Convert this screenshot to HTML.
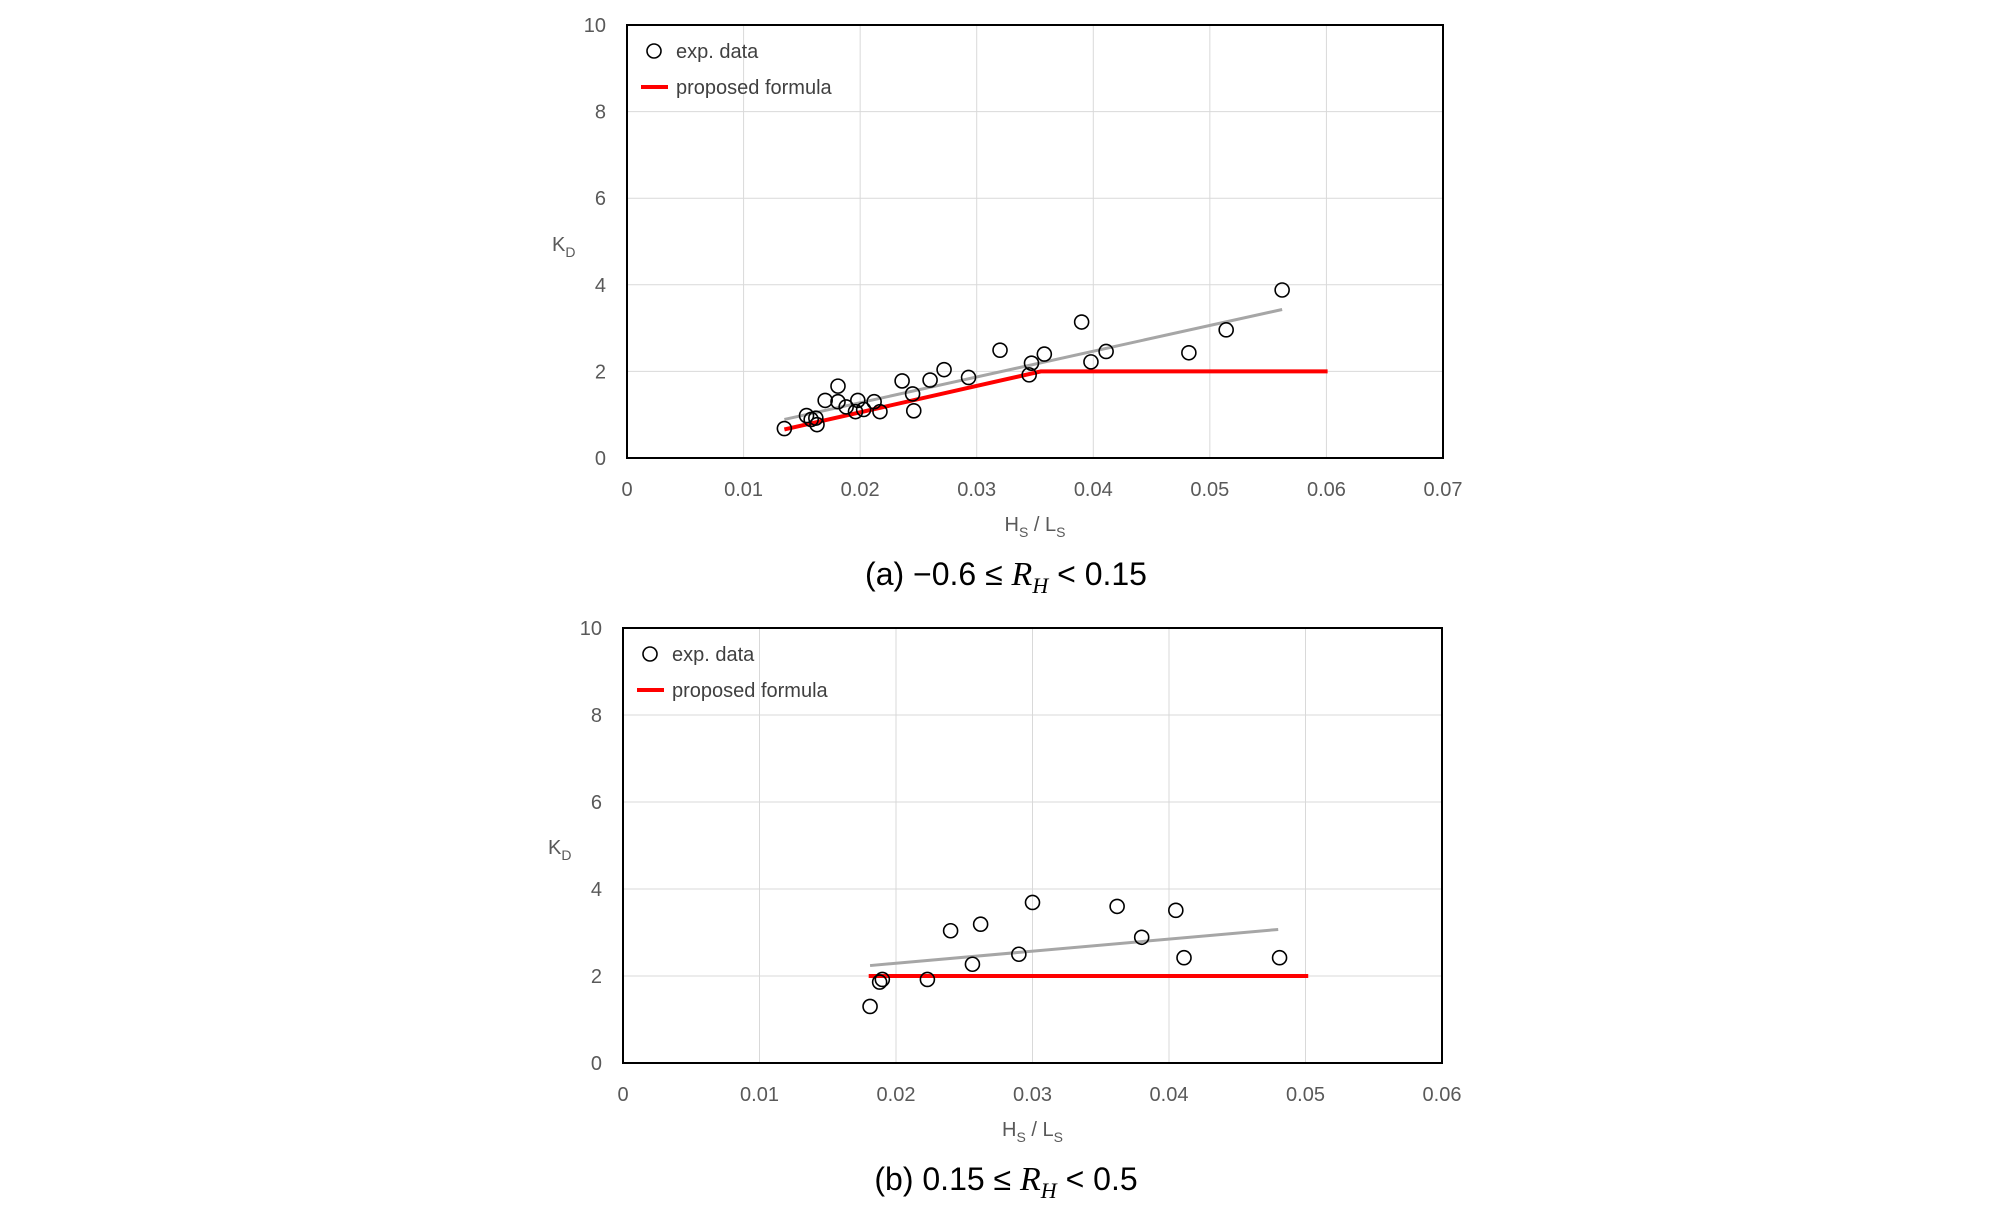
<!DOCTYPE html>
<html><head><meta charset="utf-8"><style>
html,body{margin:0;padding:0;background:#fff;}
svg{display:block;font-family:"Liberation Sans",sans-serif;}
</style></head><body>
<svg id="fig" width="2008" height="1210" viewBox="0 0 2008 1210" xmlns="http://www.w3.org/2000/svg"></svg>
<script>
// Panel (a) data
const aExpX = [0.0135,0.0154,0.0158,0.0162,0.0163,0.017,0.0181,0.0181,0.0188,0.0196,0.0198,0.0203,0.0212,0.0217,0.0236,0.0245,0.0246,0.026,0.0272,0.0293,0.032,0.0345,0.0347,0.0358,0.039,0.0398,0.0411,0.0482,0.0514,0.0562];
const aExpY = [0.68,0.98,0.89,0.92,0.77,1.33,1.66,1.3,1.18,1.07,1.33,1.12,1.3,1.07,1.78,1.48,1.09,1.8,2.04,1.86,2.49,1.92,2.19,2.4,3.14,2.22,2.46,2.43,2.96,3.88];
const aTrendX = [0.0135,0.0562];
const aTrendY = [0.89,3.43];
const aFormulaX = [0.0135,0.0355,0.0601];
const aFormulaY = [0.66,2.0,2.0];
const aXTicks = ["0","0.01","0.02","0.03","0.04","0.05","0.06","0.07"];
const yTicks = ["0","2","4","6","8","10"];
// Panel (b) data
const bExpX = [0.0181,0.0188,0.019,0.0223,0.024,0.0256,0.0262,0.029,0.03,0.0362,0.038,0.0405,0.0411,0.0481];
const bExpY = [1.3,1.86,1.92,1.92,3.04,2.27,3.19,2.5,3.69,3.6,2.89,3.51,2.42,2.42];
const bTrendX = [0.0181,0.048];
const bTrendY = [2.24,3.07];
const bFormulaX = [0.018,0.0502];
const bFormulaY = [2.0,2.0];
const bXTicks = ["0","0.01","0.02","0.03","0.04","0.05","0.06"];

const NS="http://www.w3.org/2000/svg";
const svg=document.getElementById('fig');
function mk(tag,attrs,parent){const e=document.createElementNS(NS,tag);for(const k in attrs)e.setAttribute(k,attrs[k]);(parent||svg).appendChild(e);return e;}

function panel(id,box,xmax,xTicks,expX,expY,trX,trY,fX,fY,captionParts){
  const g=mk('g',{});
  
  
  const L=box[0],T=box[1],R=box[2],B=box[3];
  const sx=v=>L+(v/xmax)*(R-L);
  const sy=v=>B-(v/10)*(B-T);
  // grid
  for(let i=1;i<xTicks.length-1;i++){const x=sx(parseFloat(xTicks[i]));const l=mk('line',{x1:x,x2:x,y1:T,y2:B,stroke:'#d9d9d9','stroke-width':1},g);}
  for(let i=1;i<yTicks.length-1;i++){const y=sy(parseFloat(yTicks[i]));const l=mk('line',{x1:L,x2:R,y1:y,y2:y,stroke:'#d9d9d9','stroke-width':1},g);}
  // frame
  const fr=mk('rect',{x:L,y:T,width:R-L,height:B-T,fill:'none',stroke:'#000','stroke-width':2},g);
  
  // tick labels
  yTicks.forEach(t=>{const e=mk('text',{x:L-21,y:sy(parseFloat(t))+7,'text-anchor':'end','font-size':20,fill:'#595959'},g);e.textContent=t;});
  xTicks.forEach(t=>{const e=mk('text',{x:sx(parseFloat(t)),y:B+38,'text-anchor':'middle','font-size':20,fill:'#595959'},g);e.textContent=t;});
  // axis titles
  const yt=mk('text',{x:L-75,y:T+226,'font-size':20,fill:'#595959'},g);
  yt.innerHTML='K<tspan font-size="14" dy="6">D</tspan>';
  
  const xt=mk('text',{x:(L+R)/2,y:B+73,'text-anchor':'middle','font-size':20,fill:'#595959'},g);
  xt.innerHTML='H<tspan font-size="14" dy="6">S</tspan><tspan dy="-6"> / L</tspan><tspan font-size="14" dy="6">S</tspan>';
  
  // trendline
  const tl=mk('line',{x1:sx(trX[0]),y1:sy(trY[0]),x2:sx(trX[1]),y2:sy(trY[1]),stroke:'#a6a6a6','stroke-width':3},g);
  
  // formula
  const pf=mk('polyline',{points:fX.map((x,i)=>sx(x)+','+sy(fY[i])).join(' '),fill:'none',stroke:'#ff0000','stroke-width':4},g);
  
  // points
  expX.forEach((x,i)=>{const c=mk('circle',{cx:sx(x),cy:sy(expY[i]),r:7,fill:'none',stroke:'#000','stroke-width':1.6},g);});
  // legend
  const lg=mk('g',{},g);
  
  const lc=mk('circle',{cx:L+27,cy:T+26,r:7,fill:'none',stroke:'#000','stroke-width':1.6},lg);
  
  const lt1=mk('text',{x:L+49,y:T+33,'font-size':20,fill:'#404040'},lg);lt1.textContent='exp. data';
  
  const ll=mk('line',{x1:L+14,x2:L+41,y1:T+62,y2:T+62,stroke:'#ff0000','stroke-width':4},lg);
  
  const lt2=mk('text',{x:L+49,y:T+69,'font-size':20,fill:'#404040'},lg);lt2.textContent='proposed formula';
  
  // caption
  const cap=mk('text',{x:1006,y:B+127,'text-anchor':'middle','font-size':32,fill:'#000'},g);
  cap.innerHTML=captionParts[0]+'<tspan font-family="Liberation Serif, serif" font-style="italic" font-size="34">R</tspan><tspan font-family="Liberation Serif, serif" font-style="italic" font-size="22" dy="8">H</tspan><tspan dy="-8">'+captionParts[1]+'</tspan>';
  
}
panel('a',[627,25,1443,458],0.07,aXTicks,aExpX,aExpY,aTrendX,aTrendY,aFormulaX,aFormulaY,['(a) −0.6 ≤ ',' &lt; 0.15']);
panel('b',[623,628,1442,1063],0.06,bXTicks,bExpX,bExpY,bTrendX,bTrendY,bFormulaX,bFormulaY,['(b) 0.15 ≤ ',' &lt; 0.5']);
</script>
</body></html>
